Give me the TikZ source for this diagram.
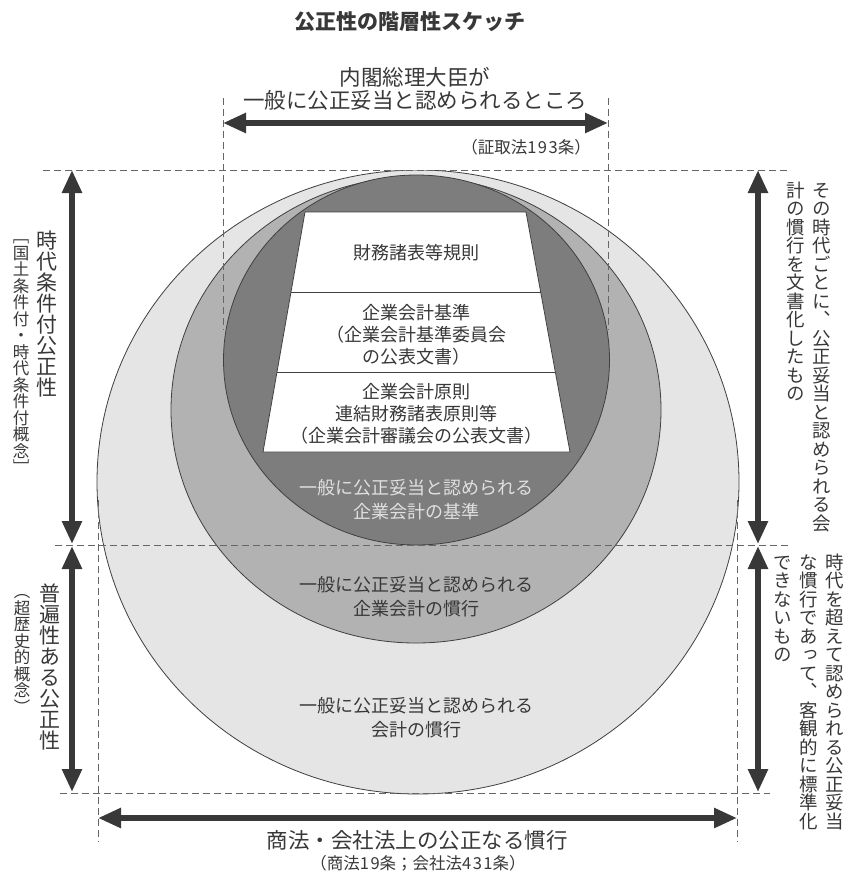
\documentclass[tikz,border=0pt]{standalone}
\usepackage{fontspec}
\usetikzlibrary{arrows.meta,calc}
\setmainfont{Noto Sans CJK JP}
\newfontfamily\vfont[RawFeature=+vert]{Noto Sans CJK JP}
\definecolor{outerc}{gray}{0.90}
\definecolor{midc}{gray}{0.70}
\definecolor{darkc}{gray}{0.49}
\definecolor{edgec}{gray}{0.25}
\definecolor{txt}{gray}{0.22}
\definecolor{lighttxt}{gray}{0.88}
\definecolor{dashc}{gray}{0.40}
\ExplSyntaxOn
\NewDocumentCommand\vcol{m}{
  \vbox{\offinterlineskip
    \tl_map_inline:nn {#1}
      {\hbox_to_wd:nn {1em}{\hss \vrule~height~.88em~depth~.12em~width~0pt\relax ##1 \hss}}}
}
\ExplSyntaxOff
\newcommand\dsp{\kern1.5pt}
\tikzset{
  bigarrow/.style={line width=5.5pt, draw=txt,
    {Triangle[length=23pt,width=19pt]}-{Triangle[length=23pt,width=19pt]}},
  guide/.style={draw=dashc, line width=0.9pt, dash pattern=on 7pt off 4pt},
  ring/.style={draw=edgec, line width=0.8pt},
  lbl/.style={inner sep=0pt, text=txt, align=center},
  s17/.style={font=\fontsize{16.5pt}{20pt}\selectfont},
  s18/.style={font=\fontsize{18pt}{22pt}\selectfont},
  s18l/.style={font=\fontsize{18pt}{24pt}\selectfont},
  s22/.style={font=\fontsize{21.5pt}{24pt}\selectfont},
  vt/.style={inner sep=0pt, text=txt, anchor=north},
  v21/.style={font=\vfont\fontsize{21pt}{21pt}\selectfont},
  v18/.style={font=\vfont\fontsize{18.5pt}{18.5pt}\selectfont},
  v16/.style={font=\vfont\fontsize{16.5pt}{16.5pt}\selectfont},
}
\begin{document}
\begin{tikzpicture}[x=1pt,y=-1pt]
\useasboundingbox (0,0) rectangle (846,875);
\fill[white] (0,0) rectangle (846,875);

% nested shapes
\begin{scope}
\clip (0,170) rectangle (846,875);
\filldraw[ring, fill=outerc] (418,482) ellipse [x radius=321pt, y radius=312pt];
\filldraw[ring, fill=midc] (416,410) ellipse [x radius=245pt, y radius=233pt];
\filldraw[ring, fill=darkc] (416.5,360) ellipse [x radius=193pt, y radius=185pt];
\end{scope}

% trapezoid
\coordinate (tl) at (305,212);
\coordinate (tr) at (526,212);
\coordinate (br) at (570,452);
\coordinate (bl) at (263,452);
\filldraw[ring, fill=white] (tl) -- (tr) -- (br) -- (bl) -- cycle;
\draw[ring] ($(tl)!1/3!(bl)$) -- ($(tr)!1/3!(br)$);
\draw[ring] ($(tl)!2/3!(bl)$) -- ($(tr)!2/3!(br)$);

\node[lbl, s18] (t1) at (416,253) {財務諸表等規則};
\node[lbl, s18] (t2) at (416,335) {企業会計基準\\（企業会計基準委員会\\の公表文書）};
\node[lbl, s18] (t3) at (416,414) {企業会計原則\\連結財務諸表原則等\\（企業会計審議会の公表文書）};

\node[lbl, s18l, text=lighttxt] (l1) at (416,500) {一般に公正妥当と認められる\\企業会計の基準};
\node[lbl, s18l] (l2) at (416,597) {一般に公正妥当と認められる\\企業会計の慣行};
\node[lbl, s18l] (l3) at (416,718) {一般に公正妥当と認められる\\会計の慣行};

% guide lines
\draw[guide] (43,170) -- (790,170);
\draw[guide] (55,545) -- (790,545);
\draw[guide] (60,793) -- (770,793);
\draw[guide] (223,98) -- (223,330);
\draw[guide] (608,98) -- (608,330);
\draw[guide] (98,500) -- (98,842);
\draw[guide] (737,500) -- (737,842);

% title and top
\node[lbl, font=\bfseries\fontsize{21pt}{24pt}\selectfont] (title) at (410,22) {公正性の階層性スケッチ};
\node[lbl, s22] (top1) at (415,77) {内閣総理大臣が};
\node[lbl, s22] (top2) at (415,100) {一般に公正妥当と認められるところ};
\node[lbl, s17, anchor=east] (top3) at (591,147) {（証取法1\dsp9\dsp3条）};

% bottom
\node[lbl, s22] (bot1) at (417,840) {商法・会社法上の公正なる慣行};
\node[lbl, s17] (bot2) at (418,863) {（商法1\dsp9条；会社法4\dsp3\dsp1条）};

% arrows
\coordinate (ta1) at (223,123);
\coordinate (ta2) at (608,123);
\coordinate (ba1) at (98,818);
\coordinate (ba2) at (737,818);
\coordinate (la1) at (72,170);
\coordinate (la2) at (72,544);
\coordinate (la3) at (72,546);
\coordinate (la4) at (72,792);
\coordinate (ra1) at (758,170);
\coordinate (ra2) at (758,544);
\coordinate (ra3) at (758,546);
\coordinate (ra4) at (758,792);
\draw[bigarrow] (ta1) -- (ta2);
\draw[bigarrow] (ba1) -- (ba2);
\draw[bigarrow] (la1) -- (la2);
\draw[bigarrow] (la3) -- (la4);
\draw[bigarrow] (ra1) -- (ra2);
\draw[bigarrow] (ra3) -- (ra4);

% vertical texts left
\node[vt, v21] (lv1) at (47,230) {\vcol{時代条件付公正性}};
\node[vt, v16] (lv2) at (21,228) {\vcol{［国土条件付・時代条件付概念］}};
\node[vt, v21] (lv3) at (50,583) {\vcol{普遍性ある公正性}};
\node[vt, v16] (lv4) at (22,583) {\vcol{（超歴史的概念）}};

% vertical texts right
\node[vt, v18] (rv1) at (822,181) {\vcol{その時代ごとに、公正妥当と認められる会}};
\node[vt, v18] (rv2) at (796,181) {\vcol{計の慣行を文書化したもの}};
\node[vt, v18] (rv3) at (835,553) {\vcol{時代を超えて認められる公正妥当}};
\node[vt, v18] (rv4) at (809,553) {\vcol{な慣行であって、客観的に標準化}};
\node[vt, v18] (rv5) at (783,553) {\vcol{できないもの}};
\end{tikzpicture}
\end{document}
